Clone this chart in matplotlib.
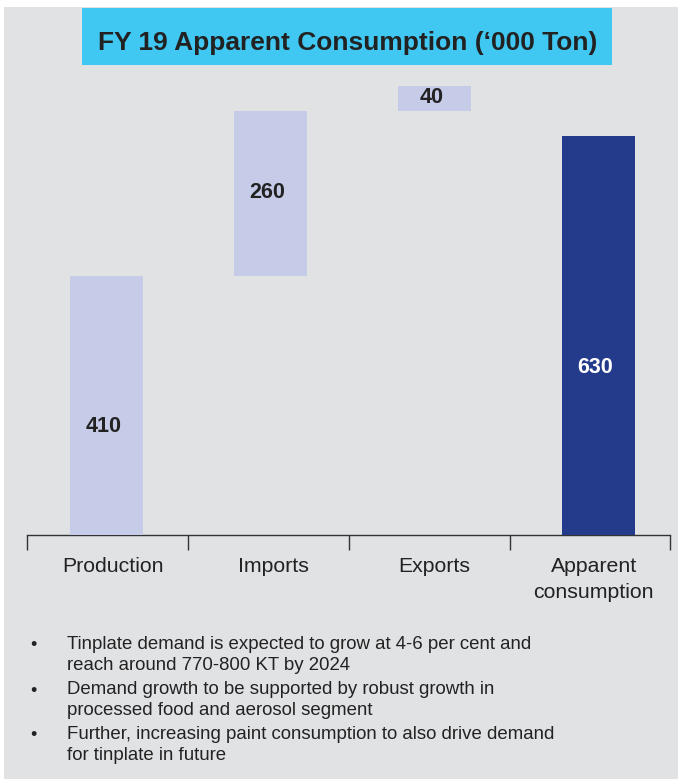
import matplotlib.pyplot as plt
from matplotlib.patches import Rectangle
from matplotlib.ticker import FixedLocator

plt.rcParams['font.family'] = ['Liberation Sans', 'DejaVu Sans']

# data
categories = ['Production', 'Imports', 'Exports', 'Apparent\nconsumption']
values = [410, 260, 40, 630]
bases = [0, 410, 670, 0]
bullets = [
    'Tinplate demand is expected to grow at 4-6 per cent and\nreach around 770-800 KT by 2024',
    'Demand growth to be supported by robust growth in\nprocessed food and aerosol segment',
    'Further, increasing paint consumption to also drive demand\nfor tinplate in future',
]
title = 'FY 19 Apparent Consumption (\u2018000 Ton)'

light = '#C6CBE7'
dark = '#233B8A'
grey = '#E1E2E4'
txt = '#222222'

W, H = 678, 782
fig = plt.figure(figsize=(W / 100, H / 100), dpi=100)
fig.patch.set_facecolor('white')

# grey panel
fig.add_artist(Rectangle((4 / W, 1 - 779 / H), 674 / W, 772 / H,
                         transform=fig.transFigure, facecolor=grey,
                         edgecolor='none', zorder=0))
# title box
fig.add_artist(Rectangle((82 / W, 1 - 65 / H), 530 / W, 57 / H,
                         transform=fig.transFigure, facecolor='#40C8F2',
                         edgecolor='none', zorder=1))
fig.text(348 / W, 1 - 43 / H, title, ha='center', va='center',
         fontsize=19, fontweight='bold', color=txt, zorder=2)

ax = fig.add_axes([27 / W, 1 - 535 / H, 643 / W, 465 / H])
ax.patch.set_visible(False)
x = list(range(len(categories)))
colors = [light, light, light, dark]
ax.bar(x, values, bottom=bases, width=0.44, color=colors, zorder=3)

for i, (v, b) in enumerate(zip(values, bases)):
    if b == 0:
        y = b + v * 0.42
    else:
        y = b + v / 2 + 2
    c = 'white' if i == 3 else txt
    ax.text(i - 0.02, y, str(v), ha='center', va='center', fontsize=15.5,
            fontweight='bold', color=c, zorder=4)

# category cells are slightly wider than the bar spacing in the original
ax.set_xlim(-0.485, 3.436)
ax.set_ylim(0, 735)
for s in ['top', 'right', 'left']:
    ax.spines[s].set_visible(False)
ax.spines['bottom'].set_color('#333333')
ax.spines['bottom'].set_linewidth(1)
ax.set_yticks([])
ax.set_xticks([0.04, 1.02, 2.0, 2.97])
ax.set_xticklabels(categories, fontsize=15.3, color=txt, linespacing=1.42,
                   va='top')
ax.tick_params(axis='x', which='major', length=0, pad=16)
ax.xaxis.set_minor_locator(FixedLocator([-0.485, 0.497, 1.479, 2.46, 3.436]))
ax.tick_params(axis='x', which='minor', length=11, width=1, color='#333333',
               direction='out')

# bullets
y0 = 646
for b in bullets:
    fig.text(33 / W, 1 - y0 / H, '\u2022', ha='center', va='center',
             fontsize=13, color=txt)
    fig.text(67 / W, 1 - (y0 - 10) / H, b, ha='left', va='top',
             fontsize=13.4, color=txt, linespacing=1.3)
    y0 += 45

fig.savefig('out.png', dpi=100)
